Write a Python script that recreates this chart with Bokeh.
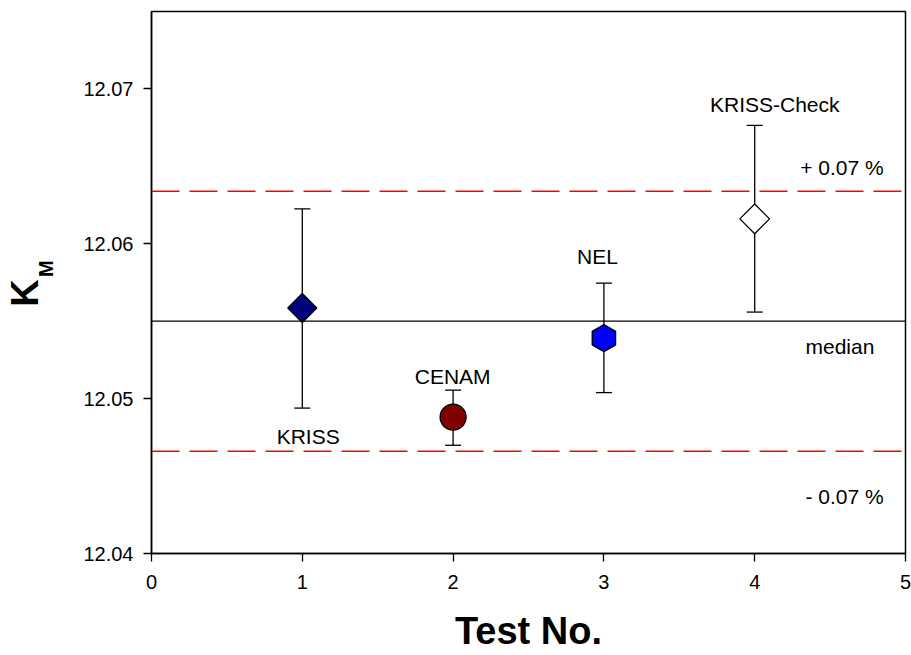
import numpy as np
from bokeh.plotting import figure
from bokeh.models import ColumnDataSource, FixedTicker, Span, Range1d, LinearAxis
from bokeh.core.properties import value
from bokeh.embed import file_html
from bokeh.resources import INLINE

# ---------------- data ----------------
labs = ["KRISS", "CENAM", "NEL", "KRISS-Check"]
test_no = [1, 2, 3, 4]
km = [12.05585, 12.04881, 12.05391, 12.06161]
err_low = [12.04939, 12.04699, 12.05039, 12.05559]
err_high = [12.06226, 12.05055, 12.05746, 12.06765]
median_km = 12.0550
upper_limit = 12.0634   # + 0.07 %
lower_limit = 12.0466   # - 0.07 %
x_ticks = [0, 1, 2, 3, 4, 5]
y_ticks = [12.04, 12.05, 12.06, 12.07]
y_tick_labels = ["12.04", "12.05", "12.06", "12.07"]

# ---------------- styles / annotation placement ----------------
FONT = "Liberation Sans"
NBSP = "\u00a0"
marker_kind = ["square", "circle", "hex", "square"]
marker_angle = [np.pi / 4, 0.0, np.pi / 2, np.pi / 4]
marker_size = [20.5, 26, 27, 21]
marker_fill = ["#000080", "#800000", "#0000ff", "#ffffff"]

label_x = [1.039, 1.997, 2.957, 4.133]
label_y = [12.04757, 12.05144, 12.0592, 12.069]

note_text = ["+ 0.07 %", "median", "- 0.07 %"]
note_x = [4.302, 4.337, 4.337]
note_y = [12.06494, 12.05337, 12.04365]

# ---------------- main plot ----------------
p = figure(width=911, height=655, title=None,
           x_range=Range1d(0, 5), y_range=Range1d(12.04, 12.075),
           output_backend="svg", toolbar_location=None,
           min_border_left=151, min_border_right=6,
           min_border_top=11, min_border_bottom=102)
p.background_fill_color = "white"
p.border_fill_color = "white"
p.outline_line_color = "black"
p.outline_line_width = 1.5
p.outline_line_alpha = 1.0
p.xgrid.grid_line_color = None
p.ygrid.grid_line_color = None

for ax in (p.xaxis[0], p.yaxis[0]):
    ax.axis_line_color = "black"
    ax.axis_line_width = 1.5
    ax.major_tick_line_color = "black"
    ax.major_tick_line_width = 1.3
    ax.major_tick_out = 8
    ax.major_tick_in = 0
    ax.minor_tick_line_color = None
    ax.major_label_text_font = FONT
    ax.major_label_text_font_size = "20px"
    ax.major_label_text_color = "black"
    ax.major_label_standoff = 10

p.xaxis.major_label_standoff = 13
p.xaxis.ticker = FixedTicker(ticks=x_ticks)
p.yaxis.ticker = FixedTicker(ticks=y_ticks)
p.yaxis.major_label_overrides = {t: s for t, s in zip(y_ticks, y_tick_labels)}

p.xaxis.axis_label = "Test No."
p.xaxis.axis_label_text_font = FONT
p.xaxis.axis_label_text_font_style = "bold"
p.xaxis.axis_label_text_font_size = "38px"
p.xaxis.axis_label_text_color = "black"
p.xaxis.axis_label_standoff = 18


def title_axis(text, size, standoff):
    return LinearAxis(ticker=FixedTicker(ticks=[]), axis_label=text,
                      axis_line_color=None, major_tick_line_color=None,
                      minor_tick_line_color=None, major_tick_out=0, major_tick_in=0,
                      minor_tick_out=0, minor_tick_in=0,
                      major_label_text_font_size="0px",
                      axis_label_text_font=FONT, axis_label_text_font_style="bold",
                      axis_label_text_font_size=size, axis_label_text_color="black",
                      axis_label_standoff=standoff)


# y-axis title: K with subscript M (M column sits next to the tick labels);
# non-breaking spaces shift each letter along the axis like a subscript
p.add_layout(title_axis(NBSP * 5 + "M", "20px", 24), "left")
p.add_layout(title_axis("K" + NBSP * 2, "38px", -14), "left")

# reference lines
p.add_layout(Span(location=median_km, dimension="width", line_color="black", line_width=1.3))
p.add_layout(Span(location=upper_limit, dimension="width", line_color="#ff0000",
                  line_width=1.5, line_dash="28 10"))
p.add_layout(Span(location=lower_limit, dimension="width", line_color="#ff0000",
                  line_width=1.5, line_dash="28 10"))

# error bars
p.segment(x0=test_no, y0=err_low, x1=test_no, y1=err_high, line_color="black", line_width=1.3)
p.scatter(x=test_no + test_no, y=err_low + err_high, marker="dash", size=16,
          line_color="black", line_width=1.3)

# markers
src = ColumnDataSource(dict(x=test_no, y=km, marker=marker_kind, angle=marker_angle,
                            size=marker_size, fill=marker_fill))
p.scatter(x="x", y="y", marker="marker", angle="angle", size="size", fill_color="fill",
          line_color="black", line_width=1.3, source=src)

# point labels
p.text(x=label_x, y=label_y, text=labs, text_font=value(FONT), text_font_size="21px",
       text_align="center", text_baseline="alphabetic", text_color="black")
p.text(x=note_x, y=note_y, text=note_text, text_font=value(FONT), text_font_size="21px",
       text_align="left", text_baseline="alphabetic", text_color="black")

open("out.html", "w").write(file_html(p, INLINE))
